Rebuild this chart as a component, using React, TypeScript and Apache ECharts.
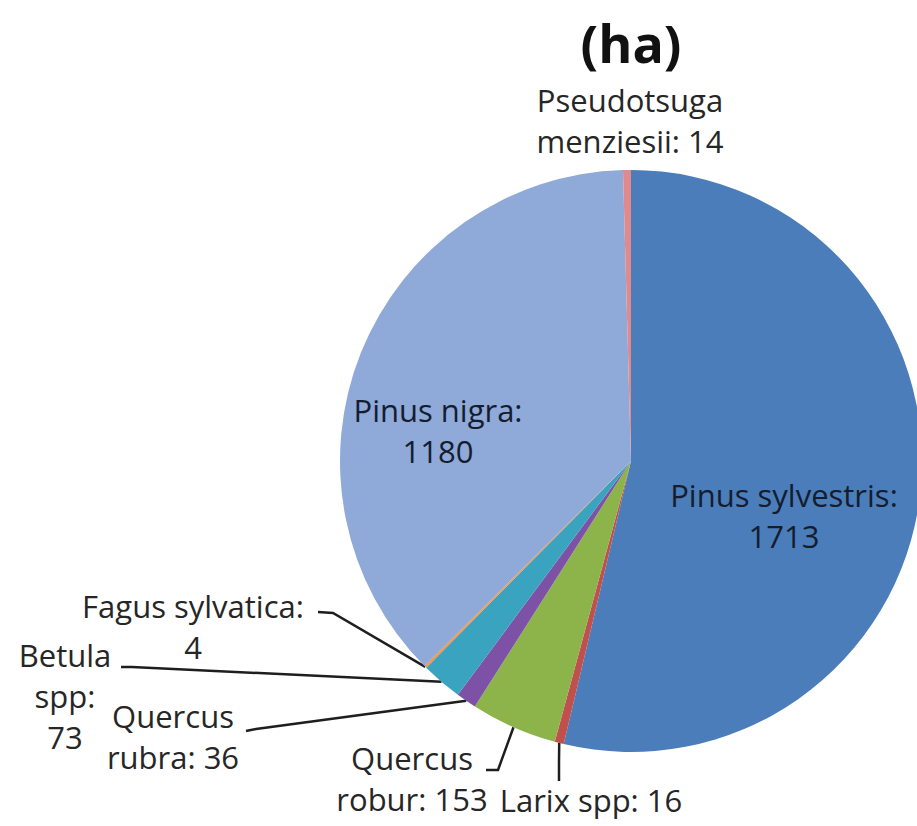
import React, { useEffect, useRef } from "react";
import * as echarts from "echarts";

// ---- data ----
const categories = [
  "Pinus sylvestris",
  "Larix spp",
  "Quercus robur",
  "Quercus rubra",
  "Betula spp",
  "Fagus sylvatica",
  "Pinus nigra",
  "Pseudotsuga menziesii",
];
const values = [1713, 16, 153, 36, 73, 4, 1180, 14];
const wrappedNames = [
  "Pinus sylvestris",
  "Larix spp",
  "Quercus\nrobur",
  "Quercus\nrubra",
  "Betula\nspp",
  "Fagus sylvatica",
  "Pinus nigra",
  "Pseudotsuga\nmenziesii",
];
const valueOnNewLine = [true, false, false, false, true, true, true, false];
const colors = [
  "#4A7DB9",
  "#C0504D",
  "#8DB44A",
  "#7D52A6",
  "#3AA3C0",
  "#F79646",
  "#8FA9D8",
  "#E08A8E",
];

// ---- layout (label placement, not data) ----
type LabelPos = {
  x: number;
  y: number;
  inside?: boolean;
  noLine?: boolean;
  start?: number[];
  bend?: number[];
  end?: number[];
};
const labelPositions: LabelPos[] = [
  { x: 784, y: 515, inside: true },
  { x: 591, y: 800, start: [559, 743], bend: [559, 762], end: [559, 781] },
  { x: 412, y: 778, start: [513, 727], bend: [498, 770], end: [486, 770] },
  { x: 173, y: 736, start: [465, 701], bend: [256, 729], end: [246, 731] },
  { x: 65, y: 696, start: [441, 682], bend: [132, 667], end: [121, 667] },
  { x: 193, y: 626, start: [425, 666], bend: [333, 613], end: [318, 612] },
  { x: 438, y: 430, inside: true },
  { x: 630, y: 120, noLine: true },
];

export default function App() {
  const ref = useRef<HTMLDivElement>(null);
  useEffect(() => {
    document.body.style.margin = "0";
    if (!ref.current) return;
    const chart = echarts.init(ref.current, null, { renderer: "svg" });
    const data = categories.map((name, i) => {
      const p = labelPositions[i];
      return {
        name,
        value: values[i],
        itemStyle: { color: colors[i] },
        label: {
          position: p.inside ? "inside" : "outside",
          color: p.inside ? "#141d30" : "#262626",
        },
        labelLine: { show: !p.inside && !p.noLine },
      };
    });
    chart.setOption({
      animation: false,
      backgroundColor: "#ffffff",
      graphic: [
        {
          type: "text",
          x: 631,
          y: 42,
          style: {
            text: "(ha)",
            fontFamily: "Open Sans",
            fontWeight: "bold",
            fontSize: 52,
            fill: "#111111",
            align: "center",
            verticalAlign: "middle",
          },
        },
      ],
      series: [
        {
          type: "pie",
          center: [631, 461],
          radius: [0, 291],
          startAngle: 90,
          clockwise: true,
          avoidLabelOverlap: false,
          emphasis: { disabled: true },
          data,
          label: {
            show: true,
            fontFamily: "Open Sans",
            fontSize: 31,
            fontWeight: 500,
            lineHeight: 41,
            align: "center",
            formatter: (params: any) => {
              const i = params.dataIndex;
              return (
                wrappedNames[i] +
                ":" +
                (valueOnNewLine[i] ? "\n" : " ") +
                values[i]
              );
            },
          },
          labelLine: {
            show: true,
            length: 10,
            length2: 10,
            smooth: false,
            lineStyle: { color: "#1e1e1e", width: 2.5 },
          },
          labelLayout: (params: any) => {
            const p = labelPositions[params.dataIndex];
            const out: any = {
              x: p.x,
              y: p.y,
              align: "center",
              verticalAlign: "middle",
            };
            if (p.bend && p.end) {
              const s =
                params.labelLinePoints && params.labelLinePoints[0]
                  ? params.labelLinePoints[0]
                  : p.start;
              out.labelLinePoints = [s, p.bend, p.end];
            }
            return out;
          },
        },
      ],
    });
    return () => chart.dispose();
  }, []);
  return <div ref={ref} style={{ width: 917, height: 826 }} />;
}
